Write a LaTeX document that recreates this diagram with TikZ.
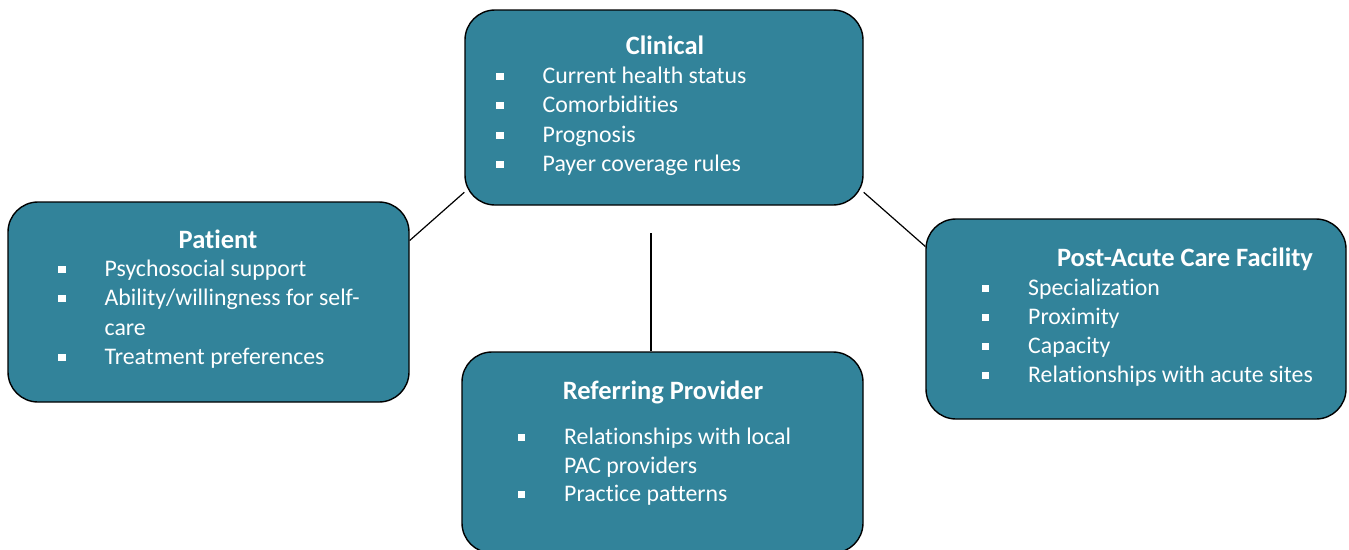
\documentclass[tikz,border=0pt]{standalone}
\usepackage{fontspec}
\setmainfont{Carlito}[RawFeature=-liga]
\definecolor{teal1}{HTML}{32839A}
\tikzset{
  box/.style={draw=black, line width=1.4pt, fill=teal1, rounded corners=30pt, inner sep=0pt},
  ttl/.style={text=white, font=\fontsize{26.5}{30}\selectfont\bfseries, inner sep=0pt, text height=20pt, text depth=1pt},
  itm/.style={text=white, font=\fontsize{23.8}{28}\selectfont, anchor=west, inner sep=0pt, text height=20pt, text depth=4.8pt},
  conn/.style={draw=black, line width=1.2pt}
}
\newcommand{\bul}{\makebox[46.5pt][l]{\raisebox{3.5pt}{\rule{7.5pt}{7.5pt}}}}
\newcommand{\nob}{\hspace*{46.5pt}}
\begin{document}
\begin{tikzpicture}[x=1pt,y=-1pt]
\useasboundingbox (0,0) rectangle (1349,549);
% boxes
\node[box, minimum width=398pt, minimum height=195pt] (clin) at (664,107.5) {};
\node[box, minimum width=401pt, minimum height=200pt] (pat) at (208.5,302) {};
\node[box, minimum width=420pt, minimum height=200pt] (pac) at (1136,319) {};
\node[box, minimum width=401pt, minimum height=201pt] (ref) at (662.5,452.5) {};
% connectors
\draw[conn] (clin.203.4) -- (pat.17.2);
\draw[conn] (clin.-23.5) -- (pac.161.6);
\coordinate (vtop) at (651,233);
\draw[conn] (vtop) -- (vtop |- ref.north);
% Clinical
\node[ttl] (clint) at (665,45) {Clinical};
\node[itm] (c1) at (496,76) {\bul Current health status};
\node[itm] (c2) at (496,105) {\bul Comorbidities};
\node[itm] (c3) at (496,135) {\bul Prognosis};
\node[itm] (c4) at (496,164) {\bul Payer coverage rules};
% Patient
\node[ttl] (patt) at (218,239) {Patient};
\node[itm] (p1) at (58,269) {\bul Psychosocial support};
\node[itm] (p2) at (58,298) {\bul Ability/willingness for self-};
\node[itm] (p3) at (58,328) {\nob care};
\node[itm] (p4) at (58,357) {\bul Treatment preferences};
% PAC
\node[ttl] (pact) at (1185,257) {Post-Acute Care Facility};
\node[itm] (f1) at (981.5,288) {\bul Specialization};
\node[itm] (f2) at (981.5,317) {\bul Proximity};
\node[itm] (f3) at (981.5,346) {\bul Capacity};
\node[itm] (f4) at (981.5,375) {\bul Relationships with acute sites};
% Referring
\node[ttl] (reft) at (663,390) {Referring Provider};
\node[itm] (r1) at (517.5,437) {\bul Relationships with local};
\node[itm] (r2) at (517.5,466) {\nob PAC providers};
\node[itm] (r3) at (517.5,494) {\bul Practice patterns};
\end{tikzpicture}
\end{document}
